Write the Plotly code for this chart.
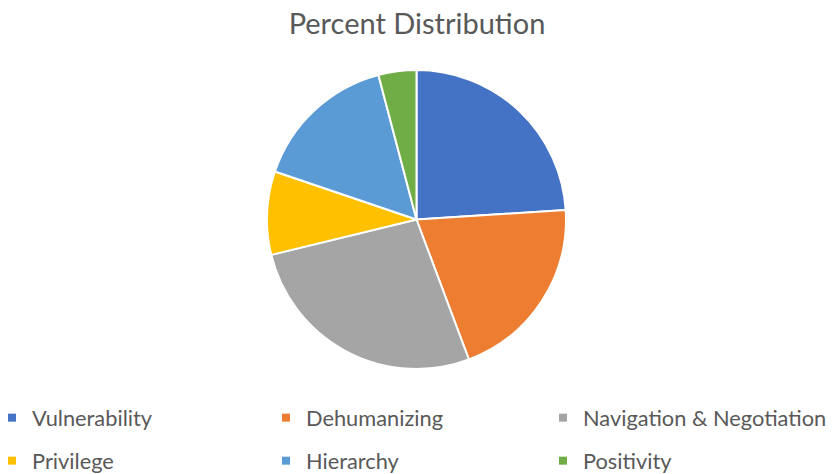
import plotly.graph_objects as go

categories = ["Vulnerability", "Dehumanizing", "Navigation & Negotiation",
              "Privilege", "Hierarchy", "Positivity"]
percent = [24.0, 20.3, 26.9, 9.0, 15.7, 4.1]
colors = ["#4472C4", "#ED7D31", "#A5A5A5", "#FFC000", "#5B9BD5", "#70AD47"]

# page body has an 8px default margin -> figure sized to fit the window
OFF = 8
W, H = 835 - OFF, 474 - OFF
MB = 90                 # bottom margin holding the legend rows
PH = H - MB             # plot-area height


def px(xp):
    return (xp - OFF) / W


def py(yp):
    return 1 - (yp - OFF) / PH


fig = go.Figure()
fig.add_trace(go.Pie(
    labels=categories, values=percent, sort=False, direction="clockwise",
    rotation=0, marker=dict(colors=colors, line=dict(color="white", width=2)),
    textinfo="none", hoverinfo="label+percent", showlegend=False,
    domain=dict(x=[px(267), px(566)], y=[py(369), py(70)]),
))

# legend keys: three columns, two rows (one legend per key for exact placement)
col_left = [-8, 266, 543]      # page x of each column's legend box
row_mid = [418, 461]           # page y of each row
legend_layout = {}
for i, (cat, col) in enumerate(zip(categories, colors)):
    name = "legend" if i == 0 else f"legend{i + 1}"
    fig.add_trace(go.Scatter(
        x=[None], y=[None], mode="markers", name=cat,
        marker=dict(symbol="square", size=8, color=col),
        legend=name,
    ))
    legend_layout[name] = dict(
        orientation="h", xanchor="left", yanchor="middle",
        xref="paper", yref="paper",
        x=px(col_left[i % 3]), y=py(row_mid[i // 3]),
        font=dict(family="Lato", size=21.8, color="#595959"),
        bgcolor="rgba(0,0,0,0)", itemwidth=30,
    )

fig.update_layout(
    width=W, height=H,
    margin=dict(l=0, r=0, t=0, b=MB, autoexpand=False),
    paper_bgcolor="white", plot_bgcolor="white",
    title=dict(text="Percent Distribution", x=0.5 + (417 - OFF - W / 2) / W,
               xanchor="center", xref="container", yref="container",
               y=1 - (24 - OFF) / H, yanchor="middle",
               font=dict(family="Lato", size=29, color="#595959")),
    xaxis=dict(visible=False), yaxis=dict(visible=False),
    **legend_layout,
)

fig.write_html("out.html")
